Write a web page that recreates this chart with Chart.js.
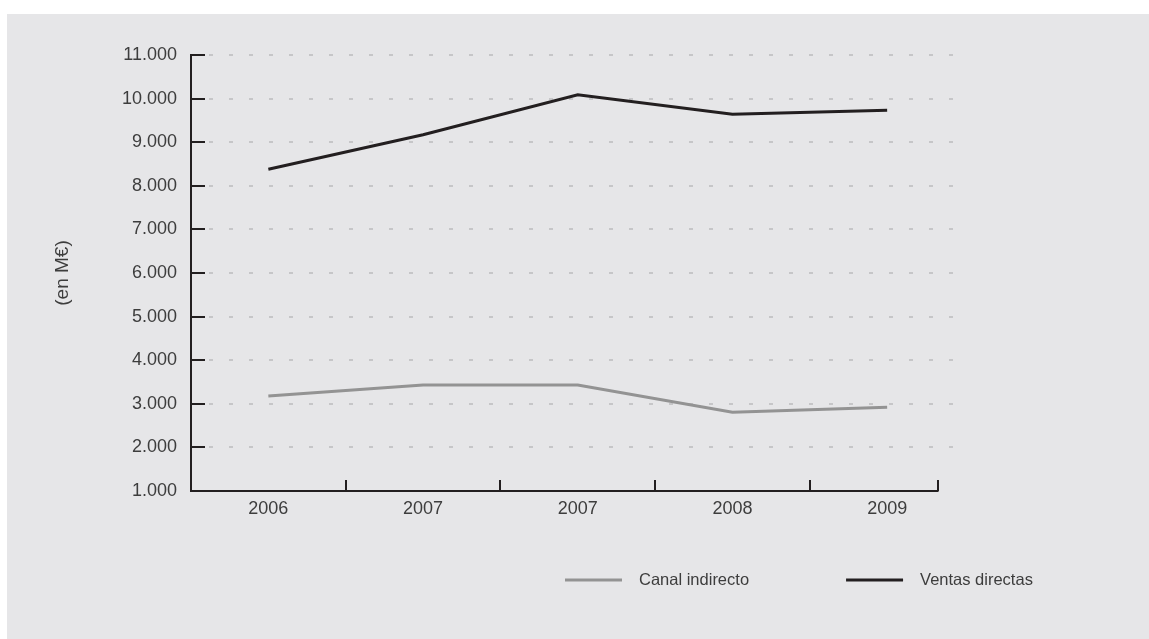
<!DOCTYPE html>
<html lang="es">
<head>
<meta charset="utf-8">
<title>Ventas directas y canal indirecto</title>
<script src="https://cdn.jsdelivr.net/npm/chart.js@4.4.1/dist/chart.umd.min.js"></script>
<style>
  html, body { margin: 0; padding: 0; background: #ffffff; }
  #wrap {
    position: absolute;
    left: 7px;
    top: 14px;
    width: 1142px;
    height: 625px;
    background: #e6e6e8;
  }
</style>
</head>
<body>
<div id="wrap"><canvas id="grafico"></canvas></div>
<script>
// Datos (en M€)
const categorias = ['2006', '2007', '2007', '2008', '2009'];
const canalIndirecto = [3180, 3430, 3430, 2805, 2920];
const ventasDirectas = [8380, 9170, 10090, 9640, 9730];
const etiquetasSerie = ['Canal indirecto', 'Ventas directas'];
const tituloEjeY = '(en M€)';

const COLOR_OSCURO = '#231f20';
const COLOR_GRIS = '#939393';
const COLOR_TEXTO = '#3d3d3d';
const COLOR_REJILLA = '#c6c6c8';
const FUENTE = "'Liberation Sans', Arial, Helvetica, sans-serif";

// 1000 -> "1.000"
function miles(v) {
  return String(v).replace(/\B(?=(\d{3})+(?!\d))/g, '.');
}

// Ejes y rejilla dibujados a mano: marcas hacia dentro y líneas discontinuas
const ejesPlugin = {
  id: 'ejesManual',
  beforeDatasetsDraw(chart) {
    const { ctx, chartArea, scales } = chart;
    const { left, right, top, bottom } = chartArea;
    const y = scales.y;
    const x = scales.x;
    ctx.save();

    // rejilla discontinua
    ctx.strokeStyle = COLOR_REJILLA;
    ctx.lineWidth = 2;
    ctx.setLineDash([4, 16]);
    y.ticks.forEach((t, i) => {
      if (i === 0) return;
      const py = Math.round(y.getPixelForTick(i));
      ctx.beginPath();
      ctx.moveTo(left + 18, py);
      ctx.lineTo(right + 2, py);
      ctx.stroke();
    });
    ctx.setLineDash([]);

    // eje Y y sus marcas
    ctx.strokeStyle = COLOR_OSCURO;
    ctx.lineWidth = 2;
    ctx.beginPath();
    ctx.moveTo(left, top - 1);
    ctx.lineTo(left, bottom + 1);
    ctx.stroke();
    y.ticks.forEach((t, i) => {
      const py = Math.round(y.getPixelForTick(i));
      ctx.beginPath();
      ctx.moveTo(left, py);
      ctx.lineTo(left + 14, py);
      ctx.stroke();
    });

    // eje X (termina antes del borde del área) y marcas entre categorías
    const finX = right - 26;
    ctx.beginPath();
    ctx.moveTo(left - 1, bottom);
    ctx.lineTo(finX, bottom);
    ctx.stroke();
    const n = x.ticks.length;
    const marcas = [];
    for (let i = 0; i < n - 1; i++) {
      marcas.push((x.getPixelForTick(i) + x.getPixelForTick(i + 1)) / 2);
    }
    marcas.push(finX - 1);
    marcas.forEach((px) => {
      ctx.beginPath();
      ctx.moveTo(Math.round(px), bottom);
      ctx.lineTo(Math.round(px), bottom - 11);
      ctx.stroke();
    });
    ctx.restore();
  },
};

// Leyenda propia: línea + texto, en una fila abajo a la derecha
const leyendaPlugin = {
  id: 'leyendaLineas',
  afterDraw(chart, args, opts) {
    const { ctx } = chart;
    ctx.save();
    ctx.font = `${opts.fontSize}px ${FUENTE}`;
    ctx.textBaseline = 'middle';
    ctx.textAlign = 'left';
    let cx = opts.x;
    chart.data.datasets.forEach((ds) => {
      ctx.strokeStyle = ds.borderColor;
      ctx.lineWidth = 3;
      ctx.beginPath();
      ctx.moveTo(cx, opts.y);
      ctx.lineTo(cx + opts.lineLength, opts.y);
      ctx.stroke();
      const tx = cx + opts.lineLength + opts.textGap;
      ctx.fillStyle = COLOR_TEXTO;
      ctx.fillText(ds.label, tx, opts.y);
      cx = tx + ctx.measureText(ds.label).width + opts.itemGap;
    });
    ctx.restore();
  },
};

const ctx = document.getElementById('grafico').getContext('2d');
new Chart(ctx, {
  type: 'line',
  data: {
    labels: categorias,
    datasets: [
      {
        label: etiquetasSerie[0],
        data: canalIndirecto,
        borderColor: COLOR_GRIS,
        borderWidth: 3,
        pointRadius: 0,
        tension: 0,
      },
      {
        label: etiquetasSerie[1],
        data: ventasDirectas,
        borderColor: COLOR_OSCURO,
        borderWidth: 3,
        pointRadius: 0,
        tension: 0,
      },
    ],
  },
  options: {
    responsive: true,
    maintainAspectRatio: false,
    animation: false,
    layout: { padding: { left: 0, right: 184.5, top: 41, bottom: 0 } },
    plugins: {
      legend: { display: false },
      tooltip: { enabled: false },
      leyendaLineas: { x: 558, y: 566, lineLength: 57, textGap: 17, itemGap: 97, fontSize: 16.5 },
    },
    scales: {
      x: {
        offset: true,
        grid: { display: false, drawTicks: false, offset: true },
        border: { display: false },
        ticks: { color: COLOR_TEXTO, font: { family: FUENTE, size: 18 }, padding: 7, maxRotation: 0 },
        afterFit: (s) => { s.height = 148; },
      },
      y: {
        min: 1000,
        max: 11000,
        grid: { display: false, drawTicks: false },
        border: { display: false },
        ticks: {
          stepSize: 1000,
          color: COLOR_TEXTO,
          font: { family: FUENTE, size: 18 },
          padding: 14,
          callback: (v) => miles(v),
        },
        title: {
          display: true,
          text: tituloEjeY,
          color: COLOR_TEXTO,
          font: { family: FUENTE, size: 19 },
          padding: { top: 44, bottom: 0 },
        },
        afterFit: (s) => { s.width = 184; },
      },
    },
  },
  plugins: [ejesPlugin, leyendaPlugin],
});
</script>
</body>
</html>
